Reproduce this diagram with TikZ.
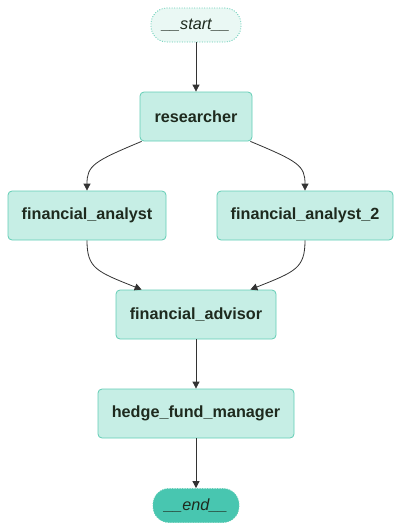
\documentclass[tikz,border=0pt]{standalone}
\usepackage{fontspec}
\setmainfont{Liberation Sans}
\usetikzlibrary{arrows.meta}

\definecolor{boxfill}{HTML}{C6EEE5}
\definecolor{boxline}{HTML}{62CDB5}
\definecolor{startfill}{HTML}{EAF8F4}
\definecolor{endfill}{HTML}{48C6B0}
\definecolor{arrowcol}{HTML}{333333}
\definecolor{textcol}{HTML}{1E2A1E}

\tikzset{
    agent/.style={draw=boxline, fill=boxfill, rounded corners=4pt, line width=0.8pt,
        minimum height=49pt, text=textcol, font=\fontsize{16.2}{18}\selectfont\bfseries},
    terminal/.style={draw=boxline, rounded corners=16pt, line width=0.8pt,
        minimum height=34pt, text=textcol, font=\fontsize{16.2}{18}\selectfont\itshape},
    edge/.style={draw=arrowcol, line width=0.8pt, -{Triangle[length=7pt,width=7pt]}}
}

\begin{document}
\begin{tikzpicture}[x=1pt, y=-1pt]

    % Рамка рисунка
    \useasboundingbox (0, 0) rectangle (402, 531);

    % Начало и конец графа
    \node[terminal, fill=startfill, dash pattern=on 1pt off 1.5pt, minimum width=90pt] (start) at (196, 25) {\_\_start\_\_};
    \node[terminal, fill=endfill, dash pattern=on 1pt off 1.5pt, minimum width=86pt] (end) at (196, 505.5) {\_\_end\_\_};

    % Агенты
    \node[agent, minimum width=112pt] (researcher) at (196, 116.5) {researcher};
    \node[agent, minimum width=158pt] (analyst) at (87, 215.5) {financial\_analyst};
    \node[agent, minimum width=176pt] (analysttwo) at (305, 215.5) {financial\_analyst\_2};
    \node[agent, minimum width=160pt] (advisor) at (196, 314.5) {financial\_advisor};
    \node[agent, minimum width=196pt] (manager) at (196, 413.5) {hedge\_fund\_manager};

    % Рёбра
    \draw[edge] (start) -- (researcher);
    \draw[edge] ([xshift=2pt]researcher.south west) .. controls +(-48, 20) and +(0, -25) .. (analyst.north);
    \draw[edge] ([xshift=-2pt]researcher.south east) .. controls +(48, 20) and +(0, -25) .. (analysttwo.north);
    \draw[edge] (analyst.south) .. controls +(0, 28) and +(-45, -18) .. ([xshift=26pt]advisor.north west);
    \draw[edge] (analysttwo.south) .. controls +(0, 28) and +(45, -18) .. ([xshift=-26pt]advisor.north east);
    \draw[edge] (advisor) -- (manager);
    \draw[edge] (manager) -- (end);
\end{tikzpicture}
\end{document}
